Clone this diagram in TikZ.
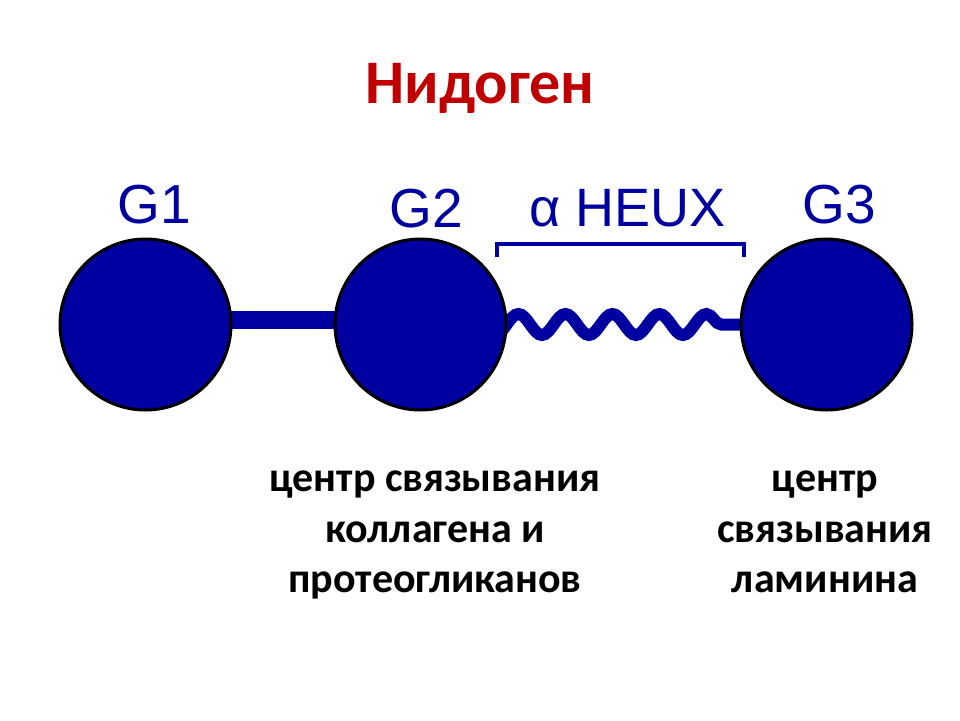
\documentclass[tikz,border=0pt]{standalone}
\usepackage{fontspec}
\setmainfont{Carlito}
\newfontfamily\arialf{Liberation Sans}
\usetikzlibrary{decorations.pathmorphing,backgrounds}
\definecolor{nblue}{RGB}{0,0,160}
\definecolor{tred}{RGB}{192,0,0}
\begin{document}
\begin{tikzpicture}[x=1pt,y=-1pt,
  ball/.style={circle, draw=black, line width=3pt, fill=nblue, minimum size=171pt, inner sep=0pt},
  glabel/.style={font=\arialf\fontsize{55}{60}\selectfont, text=nblue, anchor=base, inner sep=0pt},
  desc/.style={font=\bfseries\fontsize{42}{50}\selectfont, anchor=base, inner sep=0pt},
  bar/.style={draw=nblue, line width=18pt},
  helix/.style={draw=nblue, line width=12pt, decorate,
    decoration={snake, amplitude=10.5pt, segment length=47pt, pre length=36.25pt, post length=87.75pt}},
  bracket/.style={draw=nblue, line width=4pt},
]
\useasboundingbox (0,0) rectangle (960,720);

\node[font=\bfseries\fontsize{62}{70}\selectfont, text=tred, anchor=base, inner sep=0pt] (title) at (480,103) {Нидоген};

\node[ball] (g1) at (145.5,324.5) {};
\node[ball] (g2) at (420.5,324.5) {};
\node[ball] (g3) at (826.5,324.5) {};

\begin{scope}[on background layer]
  \fill[white] (0,0) rectangle (960,720);
  \draw[bar] ([yshift=5pt]g1.center) -- ([yshift=5pt]g2.center);
  \draw[helix] (g2.center) -- (g3.center);
\end{scope}

\node[glabel] (l1) at (154.5,223) {G1};
\node[glabel] (l2) at (426,227) {G2};
\node[glabel] (l3) at (839.5,223) {G3};
\node[glabel, font=\arialf\fontsize{54}{60}\selectfont] (hl) at (627.5,226) {α HEUX};

\coordinate (bl) at (497,257);
\coordinate (br) at (744,257);
\draw[bracket] (bl) -- ++(0,-13) -| (br);

\node[desc] (a1) at (435,491) {центр связывания};
\node[desc] (a2) at (435,542) {коллагена и};
\node[desc] (a3) at (435,592) {протеогликанов};
\node[desc] (b1) at (825,491) {центр};
\node[desc] (b2) at (825,542) {связывания};
\node[desc] (b3) at (825,592) {ламинина};
\end{tikzpicture}
\end{document}
